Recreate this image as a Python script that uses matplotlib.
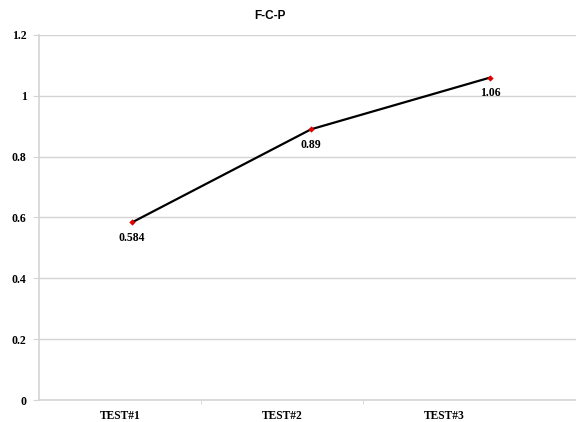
import matplotlib
matplotlib.use("Agg")
import matplotlib.pyplot as plt
from matplotlib.ticker import FixedLocator, NullFormatter

title = "F-C-P"
categories = ["TEST#1", "TEST#2", "TEST#3"]
values = [0.584, 0.89, 1.06]
y_ticks = [0, 0.2, 0.4, 0.6, 0.8, 1.0, 1.2]
y_tick_labels = ["0", "0.2", "0.4", "0.6", "0.8", "1", "1.2"]

serif_bold = dict(family="Liberation Serif", weight="bold")
grid_col = "#d4d4d4"

fig = plt.figure(figsize=(5.76, 4.22), dpi=100)
ax = fig.add_axes([0.0677, 0.0521, 0.9323, 0.865])

xs = list(range(len(values)))
ax.plot(xs, values, color="black", lw=1.6, zorder=3)
ax.plot(xs, values, ls="none", marker="D", ms=3.2, color="#e00000",
        markeredgewidth=0, zorder=4)
for x, v in zip(xs, values):
    ax.annotate(f"{v:g}", (x, v), xytext=(0, -11), textcoords="offset points",
                ha="center", va="center", fontsize=8.5, **serif_bold)

ax.set_xlim(-0.52, 2.48)
ax.set_ylim(0, 1.2)
ax.set_yticks(y_ticks)
ax.set_yticklabels(y_tick_labels, fontsize=8.5, **serif_bold)
ax.yaxis.grid(True, color=grid_col, lw=1.0)
ax.set_axisbelow(True)
ax.tick_params(axis="y", length=4, color=grid_col, pad=5)
ax.set_xticks([])
for s in ("top", "right"):
    ax.spines[s].set_visible(False)
for s in ("left", "bottom"):
    ax.spines[s].set_color(grid_col)
    ax.spines[s].set_linewidth(1.2)

# category axis along the bottom
cax = ax.twiny()
cax.xaxis.set_ticks_position("bottom")
cax.xaxis.set_label_position("bottom")
cax.set_xlim(-0.5, 2.815)
cax.xaxis.set_major_locator(FixedLocator(range(len(categories))))
cax.set_xticklabels(categories, fontsize=8.3, **serif_bold)
cax.xaxis.set_minor_locator(FixedLocator([0.5, 1.5]))
cax.xaxis.set_minor_formatter(NullFormatter())
cax.tick_params(axis="x", which="major", length=0, pad=7)
cax.tick_params(axis="x", which="minor", length=3, color=grid_col)
for s in cax.spines.values():
    s.set_visible(False)

fig.text(0.469, 0.962, title, ha="center", va="center", fontsize=8.5,
         family="Liberation Sans", weight="bold")

fig.savefig("out.png", dpi=100)
